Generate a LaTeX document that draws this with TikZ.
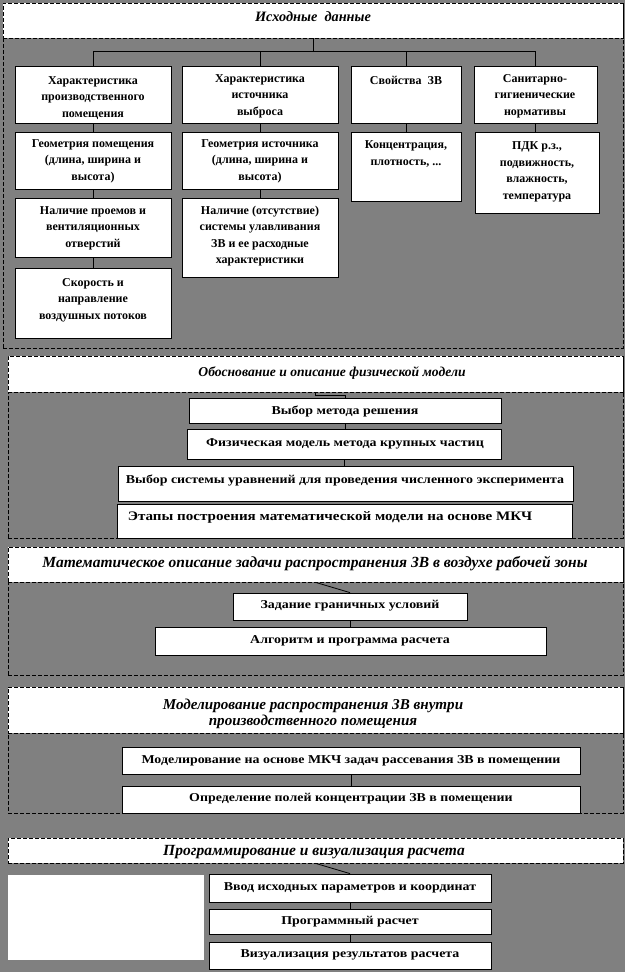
\documentclass[tikz,border=0pt]{standalone}
\usepackage{fontspec}
\setmainfont{Liberation Serif}
\newfontfamily\widefam[FakeStretch=1.16]{Liberation Serif}
\usetikzlibrary{fit}
\definecolor{bg}{RGB}{128,128,128}
\begin{document}
\begin{tikzpicture}[x=1pt,y=-1pt,
 box/.style={draw=black, fill=white, line width=0.8pt, inner sep=0pt},
 dbox/.style={draw=black, fill=white, line width=0.7pt, dash pattern=on 4pt off 2pt, inner sep=0pt},
 region/.style={draw=black, line width=0.7pt, dash pattern=on 4pt off 2pt, inner sep=0pt},
 btxt/.style={font=\bfseries\fontsize{12}{16.5}\selectfont, align=center, inner sep=0pt},
 wtxt/.style={font=\widefam\bfseries\fontsize{12}{16}\selectfont, align=center, inner sep=0pt},
 ttxt/.style={font=\bfseries\itshape\fontsize{#1}{16}\selectfont, align=center, inner sep=0pt},
 conn/.style={draw=black, line width=0.8pt}]
\fill[bg] (0,0) rectangle (625,972);
\useasboundingbox (0,0) rectangle (625,972);
% ---------- section 1
\node[region, fit={(3,3) (623,348)}] (r1) {};
\node[dbox, fit={(3,3) (623,38)}] (t1) {};
\node[ttxt=14.3] (t1t) at (313,17) {Исходные\ \ данные};
\node[box, fit={(15,66) (171,123)}] (a1) {};
\node[box, fit={(182,66) (338,123)}] (b1) {};
\node[box, fit={(351,66) (461,123)}] (c1) {};
\node[box, fit={(474,66) (597,123)}] (d1) {};
\node[box, fit={(15,132) (171,189)}] (a2) {};
\node[box, fit={(182,132) (338,189)}] (b2) {};
\node[box, fit={(351,132) (461,201)}] (c2) {};
\node[box, fit={(475,132) (599,213)}] (d2) {};
\node[box, fit={(15,198) (171,257)}] (a3) {};
\node[box, fit={(182,198) (338,277)}] (b3) {};
\node[box, fit={(15,268) (171,338)}] (a4) {};
\node[btxt] (a1t) at (93,98) {Характеристика\\производственного\\помещения};
\node[btxt] (b1t) at (260,96) {Характеристика\\источника\\выброса};
\node[btxt] (c1t) at (406,80) {Свойства\ \ ЗВ};
\node[btxt] (d1t) at (535,96) {Санитарно-\\гигиенические\\нормативы};
\node[btxt] (a2t) at (93,161) {Геометрия помещения\\(длина, ширина и\\высота)};
\node[btxt] (b2t) at (260,161) {Геометрия источника\\(длина, ширина и\\высота)};
\node[btxt] (c2t) at (406,154) {Концентрация,\\плотность, ...};
\node[btxt] (d2t) at (537,172) {ПДК р.з.,\\подвижность,\\влажность,\\температура};
\node[btxt] (a3t) at (93,228) {Наличие проемов и\\вентиляционных\\отверстий};
\node[btxt] (b3t) at (260,236) {Наличие (отсутствие)\\системы улавливания\\ЗВ и ее расходные\\характеристики};
\node[btxt] (a4t) at (93,300) {Скорость и\\направление\\воздушных потоков};
\coordinate (j1) at (313,51);
\draw[conn] (t1.south) -- (j1);
\draw[conn] (a1.north) |- (d1.north |- j1) -- (d1.north);
\draw[conn] (b1.north) -- (b1.north |- j1);
\draw[conn] (c1.north) -- (c1.north |- j1);
\draw[conn] (a1.south) -- (a2.north);
\draw[conn] (a2.south) -- (a3.north);
\draw[conn] (a3.south) -- (a4.north);
\draw[conn] (b1.south) -- (b2.north);
\draw[conn] (b2.south) -- (b3.north);
\draw[conn] (c1.south) -- (c2.north);
\draw[conn] (d1.south) -- (d1.south |- d2.north);
% ---------- section 2
\node[region, fit={(8,356) (623,538)}] (r2) {};
\node[dbox, fit={(8,356) (623,392)}] (t2) {};
\node[ttxt=13.6] (t2t) at (332,373) {Обоснование и описание физической модели};
\node[box, fit={(189,398) (501,423)}] (e1) {};
\node[box, fit={(187,429) (501,459)}] (e2) {};
\node[box, fit={(118,466) (573,501)}] (e3) {};
\node[box, fit={(117,504) (572,538)}] (e4) {};
\node[wtxt] (e1t) at (345,411) {Выбор метода решения};
\node[wtxt] (e2t) at (345,444) {Физическая модель метода крупных частиц};
\node[wtxt] (e3t) at (345,480) {Выбор системы уравнений для проведения численного эксперимента};
\node[wtxt, font=\widefam\bfseries\fontsize{13}{16}\selectfont] (e4t) at (330,517) {Этапы построения математической модели на основе МКЧ};
\draw[conn] (t2.south) -- ++(0,3) -| (e1.north);
\draw[conn] (e1.south) -- (e1.south |- e2.north);
\draw[conn] (e2.south) -- (e2.south |- e3.north);
% ---------- section 3
\node[region, fit={(8,547) (623,675)}] (r3) {};
\node[dbox, fit={(8,547) (623,582)}] (t3) {};
\node[ttxt=15.5] (t3t) at (315,564) {Математическое описание задачи распространения ЗВ в воздухе рабочей зоны};
\node[box, fit={(233,593) (467,620)}] (f1) {};
\node[box, fit={(155,627) (546,655)}] (f2) {};
\node[wtxt] (f1t) at (350,606) {Задание граничных условий};
\node[wtxt] (f2t) at (350,641) {Алгоритм и программа расчета};
\draw[conn] (t3.south) -- (f1.north);
\draw[conn] (f1.south) -- (f1.south |- f2.north);
% ---------- section 4
\node[region, fit={(8,687) (623,813)}] (r4) {};
\node[dbox, fit={(8,687) (623,733)}] (t4) {};
\node[ttxt=15.1] (t4t) at (313,714) {Моделирование распространения ЗВ внутри\\производственного помещения};
\node[box, fit={(122,747) (580,774)}] (g1) {};
\node[box, fit={(122,786) (580,813)}] (g2) {};
\node[wtxt] (g1t) at (351,761) {Моделирование на основе МКЧ задач рассевания ЗВ в помещении};
\node[wtxt] (g2t) at (351,799) {Определение полей концентрации ЗВ в помещении};
\draw[conn] (g1.south) -- (g2.north);
% ---------- section 5
\node[dbox, fit={(8,838) (623,863)}] (t5) {};
\node[ttxt=15.5] (t5t) at (314,852) {Программирование и визуализация расчета};
\node[fill=white, inner sep=0pt, fit={(8,875) (204,960)}] (w) {};
\node[box, fit={(209,874) (491,902)}] (h1) {};
\node[box, fit={(209,909) (491,934)}] (h2) {};
\node[box, fit={(209,942) (491,969)}] (h3) {};
\node[wtxt] (h1t) at (350,888) {Ввод исходных параметров и координат};
\node[wtxt] (h2t) at (350,922) {Программный расчет};
\node[wtxt] (h3t) at (350,955) {Визуализация результатов расчета};
\draw[conn] (t5.south) -- (h1.north);
\draw[conn] (h1.south) -- (h2.north);
\draw[conn] (h2.south) -- (h3.north);
\end{tikzpicture}
\end{document}
